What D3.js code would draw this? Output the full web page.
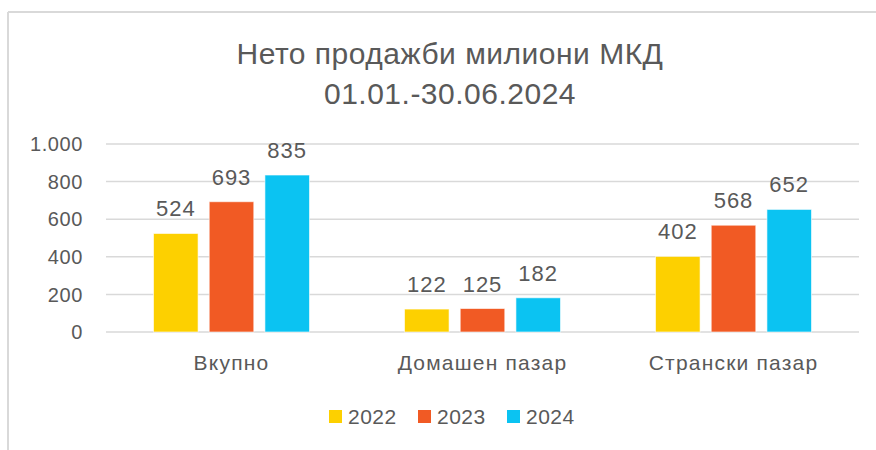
<!DOCTYPE html>
<html>
<head>
<meta charset="utf-8">
<script src="https://cdn.jsdelivr.net/npm/d3@7"></script>
<style>
  body { margin: 0; background: #fff; }
  svg { display: block; font-family: "Liberation Sans", Arial, sans-serif; }
</style>
</head>
<body>
<div id="chart"></div>
<script>
const categories = ['Вкупно', 'Домашен пазар', 'Странски пазар'];
const years = ['2022', '2023', '2024'];
const values2022 = [524, 122, 402];
const values2023 = [693, 125, 568];
const values2024 = [835, 182, 652];
const yTicks = [0, 200, 400, 600, 800, 1000];
const titleLines = ['Нето продажби милиони МКД', '01.01.-30.06.2024'];

const colors = ['#FDD000', '#F15A24', '#0BC3F2'];
const textColor = '#595959';

const width = 876, height = 450;
const margin = {top: 144, right: 17, bottom: 118, left: 106};

const series = years.map((y, i) => ({
  year: y,
  color: colors[i],
  values: [values2022, values2023, values2024][i]
}));

const svg = d3.select('#chart').append('svg')
  .attr('width', width)
  .attr('height', height);

// frame lines
svg.append('line')
  .attr('x1', 8).attr('x2', width).attr('y1', 12).attr('y2', 12)
  .attr('stroke', '#d9d9d9').attr('stroke-width', 2);
svg.append('line')
  .attr('x1', 8).attr('x2', 8).attr('y1', 12).attr('y2', height)
  .attr('stroke', '#d9d9d9').attr('stroke-width', 2);

// title
svg.append('text')
  .attr('text-anchor', 'middle')
  .attr('fill', textColor)
  .style('font-size', '30px')
  .style('letter-spacing', '0.5px')
  .selectAll('tspan')
  .data(titleLines)
  .enter()
  .append('tspan')
  .attr('x', 450)
  .attr('y', (d, i) => 64 + i * 40)
  .text(d => d);

const x0 = d3.scaleBand()
  .domain(categories)
  .range([margin.left, width - margin.right]);

const x1 = d3.scaleBand()
  .domain(years)
  .range([0, 156])
  .paddingInner(0.2);

const y = d3.scaleLinear()
  .domain([0, 1000])
  .range([height - margin.bottom, margin.top]);

// gridlines
svg.append('g')
  .selectAll('line')
  .data(yTicks)
  .enter()
  .append('line')
  .attr('x1', margin.left)
  .attr('x2', width - margin.right)
  .attr('y1', d => y(d))
  .attr('y2', d => y(d))
  .attr('stroke', '#d9d9d9')
  .attr('stroke-width', 1.5);

// y axis labels
const fmt = d => d3.format(',')(d).replace(/,/g, '.');
svg.append('g')
  .selectAll('text')
  .data(yTicks)
  .enter()
  .append('text')
  .attr('x', 83)
  .attr('y', d => y(d))
  .attr('dy', '0.36em')
  .attr('text-anchor', 'end')
  .attr('fill', textColor)
  .style('font-size', '20px')
  .style('letter-spacing', '0.6px')
  .text(fmt);

// bars
const groups = svg.append('g')
  .selectAll('g')
  .data(categories)
  .enter()
  .append('g')
  .attr('transform', d => `translate(${x0(d) + (x0.bandwidth() - 156) / 2},0)`);

groups.selectAll('rect')
  .data((d, ci) => series.map(s => ({year: s.year, color: s.color, value: s.values[ci]})))
  .enter()
  .append('rect')
  .attr('x', d => x1(d.year))
  .attr('width', x1.bandwidth())
  .attr('y', d => y(d.value))
  .attr('height', d => y(0) - y(d.value))
  .attr('fill', d => d.color)
  .attr('stroke', '#fff')
  .attr('stroke-opacity', 0.6)
  .attr('stroke-width', 1);

groups.selectAll('text')
  .data((d, ci) => series.map(s => ({year: s.year, value: s.values[ci]})))
  .enter()
  .append('text')
  .attr('x', d => x1(d.year) + x1.bandwidth() / 2)
  .attr('y', d => y(d.value) - 17)
  .attr('text-anchor', 'middle')
  .attr('fill', textColor)
  .style('font-size', '22px')
  .style('letter-spacing', '1px')
  .text(d => d.value);

// category labels
svg.append('g')
  .selectAll('text')
  .data(categories)
  .enter()
  .append('text')
  .attr('x', d => x0(d) + x0.bandwidth() / 2)
  .attr('y', 370)
  .attr('text-anchor', 'middle')
  .attr('fill', textColor)
  .style('font-size', '21px')
  .style('letter-spacing', '1.2px')
  .text(d => d);

// legend
const legendX = [329, 418, 507];
const legend = svg.append('g')
  .selectAll('g')
  .data(series)
  .enter()
  .append('g')
  .attr('transform', (d, i) => `translate(${legendX[i]},410)`);

legend.append('rect')
  .attr('width', 13)
  .attr('height', 13)
  .attr('fill', d => d.color);

legend.append('text')
  .attr('x', 19)
  .attr('y', 14)
  .attr('fill', textColor)
  .style('font-size', '21px')
  .style('letter-spacing', '0.5px')
  .text(d => d.year);
</script>
</body>
</html>
